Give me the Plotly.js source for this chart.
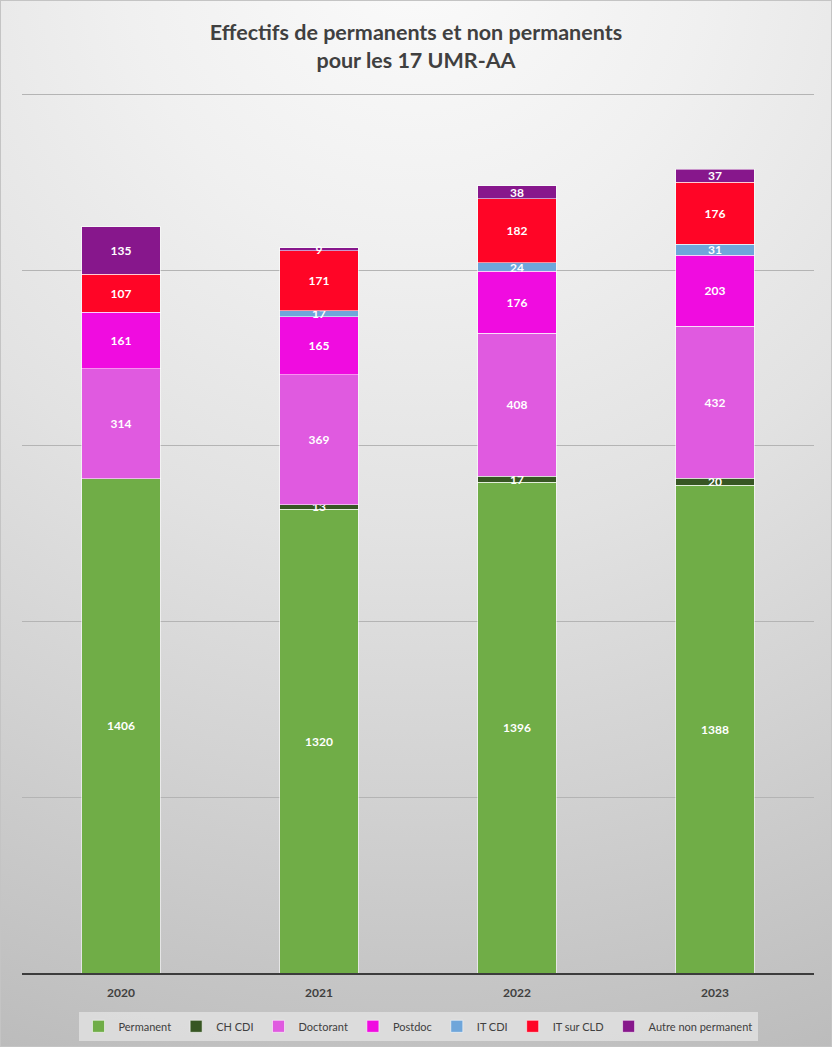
<!DOCTYPE html>
<html>
<head>
<meta charset="utf-8">
<script src="https://cdn.plot.ly/plotly-3.0.1.min.js"></script>
<style>
  html, body { margin: 0; padding: 0; }
  body { width: 832px; height: 1047px; overflow: hidden; }
  #wrap {
    position: absolute; left: 0; top: 0; width: 830px; height: 1045px;
    border: 1px solid #c4c4c4;
    background: radial-gradient(circle at 50% -5%, #fbfbfb 0%, #f0f0f0 25%, #e2e2e2 50%, #d2d2d2 72%, #c4c4c4 90%, #bcbcbc 100%);
  }
  #chart { width: 830px; height: 1045px; }
</style>
</head>
<body>
<div id="wrap"><div id="chart"></div></div>
<script>
const years = ['2020', '2021', '2022', '2023'];
const permanent = [1406, 1320, 1396, 1388];
const chCdi = [null, 13, 17, 20];
const doctorant = [314, 369, 408, 432];
const postdoc = [161, 165, 176, 203];
const itCdi = [null, 17, 24, 31];
const itSurCld = [107, 171, 182, 176];
const autre = [135, 9, 38, 37];

const seriesNames = ['Permanent', 'CH CDI', 'Doctorant', 'Postdoc', 'IT CDI', 'IT sur CLD', 'Autre non permanent'];
const seriesValues = [permanent, chCdi, doctorant, postdoc, itCdi, itSurCld, autre];
const seriesColors = ['#70AD47', '#375623', '#E05AE0', '#F00CE0', '#6FA6DA', '#FF0526', '#87178C'];

const FONT = 'Lato, "Open Sans", "DejaVu Sans", sans-serif';

const traces = seriesNames.map((name, i) => ({
  type: 'bar',
  name: name,
  x: years,
  y: seriesValues[i],
  text: seriesValues[i].map(v => v == null ? '' : String(v)),
  textposition: 'inside',
  insidetextanchor: 'middle',
  textangle: 0,
  constraintext: 'none',
  cliponaxis: false,
  textfont: { family: FONT, size: 12, color: '#ffffff', weight: 'bold' },
  marker: { color: seriesColors[i], line: { color: 'rgba(255,255,255,0.55)', width: 1 } },
  hoverinfo: 'skip'
}));

const layout = {
  width: 830,
  height: 1045,
  barmode: 'stack',
  bargap: 0.605,
  paper_bgcolor: 'rgba(0,0,0,0)',
  plot_bgcolor: 'rgba(0,0,0,0)',
  margin: { l: 21, r: 17, t: 90, b: 73, autoexpand: false },
  font: { family: FONT, color: '#404040' },
  uniformtext: { minsize: 12, mode: 'show' },
  title: {
    text: 'Effectifs de permanents et non permanents<br>pour les 17 UMR-AA',
    font: { family: FONT, size: 21.5, color: '#404040', weight: 'bold' },
    x: 0.5, xanchor: 'center',
    yref: 'container', y: 0.963, yanchor: 'top'
  },
  xaxis: {
    type: 'category',
    showgrid: false,
    showline: true,
    linecolor: '#3c3c3c',
    linewidth: 2,
    ticks: '',
    tickfont: { family: FONT, size: 12, color: '#404040', weight: 'bold' },
    ticklabelstandoff: 8
  },
  yaxis: {
    range: [0, 2510],
    tickvals: [500, 1000, 1500, 2000, 2500],
    showticklabels: false,
    showgrid: true,
    gridcolor: '#b4b4b4',
    gridwidth: 1,
    zeroline: false,
    fixedrange: true
  },
  showlegend: true,
  legend: {
    orientation: 'h',
    x: 0.5, xanchor: 'center',
    y: -0.044, yanchor: 'top',
    bgcolor: 'rgba(228,228,228,0.75)',
    font: { family: FONT, size: 11, color: '#404040' },
    itemwidth: 30,
    traceorder: 'normal',
    itemclick: false,
    itemdoubleclick: false
  }
};

Plotly.newPlot('chart', traces, layout, { displayModeBar: false, staticPlot: true });
</script>
</body>
</html>
